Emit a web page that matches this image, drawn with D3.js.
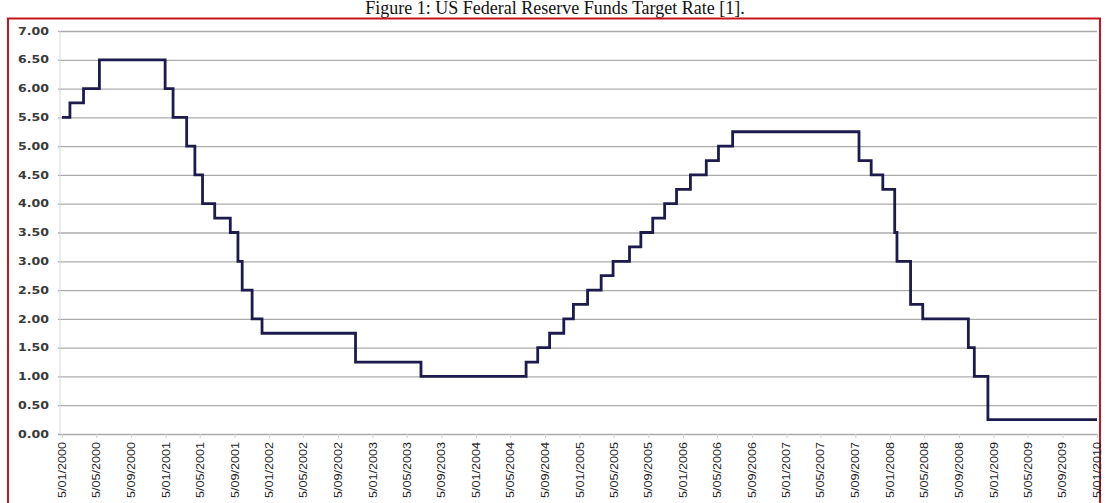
<!DOCTYPE html>
<html>
<head>
<meta charset="utf-8">
<script src="https://cdn.jsdelivr.net/npm/d3@7"></script>
<style>
  html, body { margin: 0; padding: 0; background: #fff; }
  svg { display: block; }
</style>
</head>
<body>
<svg id="chart" width="1105" height="503"></svg>
<script>
// ---- Data: Fed funds target rate changes (date of change, new rate %) ----
const changeDates = [
  "2000-01-05","2000-02-02","2000-03-21","2000-05-16",
  "2001-01-03","2001-01-31","2001-03-20","2001-04-18","2001-05-15","2001-06-27",
  "2001-08-21","2001-09-17","2001-10-02","2001-11-06","2001-12-11",
  "2002-11-06","2003-06-25",
  "2004-06-30","2004-08-10","2004-09-21","2004-11-10","2004-12-14",
  "2005-02-02","2005-03-22","2005-05-03","2005-06-30","2005-08-09","2005-09-20","2005-11-01","2005-12-13",
  "2006-01-31","2006-03-28","2006-05-10","2006-06-29",
  "2007-09-18","2007-10-31","2007-12-11",
  "2008-01-22","2008-01-30","2008-03-18","2008-04-30","2008-10-08","2008-10-29","2008-12-16",
  "2010-01-05"
];
const rates = [
  5.50,5.75,6.00,6.50,
  6.00,5.50,5.00,4.50,4.00,3.75,
  3.50,3.00,2.50,2.00,1.75,
  1.25,1.00,
  1.25,1.50,1.75,2.00,2.25,
  2.50,2.75,3.00,3.25,3.50,3.75,4.00,4.25,
  4.50,4.75,5.00,5.25,
  4.75,4.50,4.25,
  3.50,3.00,2.25,2.00,1.50,1.00,0.25,
  0.25
];
const yTicks = [0,0.5,1,1.5,2,2.5,3,3.5,4,4.5,5,5.5,6,6.5,7];
const xTickDates = [
  "2000-01-05","2000-05-05","2000-09-05","2001-01-05","2001-05-05","2001-09-05",
  "2002-01-05","2002-05-05","2002-09-05","2003-01-05","2003-05-05","2003-09-05",
  "2004-01-05","2004-05-05","2004-09-05","2005-01-05","2005-05-05","2005-09-05",
  "2006-01-05","2006-05-05","2006-09-05","2007-01-05","2007-05-05","2007-09-05",
  "2008-01-05","2008-05-05","2008-09-05","2009-01-05","2009-05-05","2009-09-05",
  "2010-01-05"
];
const xTickLabels = [
  "5/01/2000","5/05/2000","5/09/2000","5/01/2001","5/05/2001","5/09/2001",
  "5/01/2002","5/05/2002","5/09/2002","5/01/2003","5/05/2003","5/09/2003",
  "5/01/2004","5/05/2004","5/09/2004","5/01/2005","5/05/2005","5/09/2005",
  "5/01/2006","5/05/2006","5/09/2006","5/01/2007","5/05/2007","5/09/2007",
  "5/01/2008","5/05/2008","5/09/2008","5/01/2009","5/05/2009","5/09/2009",
  "5/01/2010"
];
const titleText = "Figure 1: US Federal Reserve Funds Target Rate [1].";

// ---- Drawing ----
(function () {
const parse = d3.timeParse("%Y-%m-%d");
const series = changeDates.map((d, i) => ({ date: parse(d), rate: rates[i] }));
const tickDates = xTickDates.map(parse);

const svg = d3.select("#chart");
const pLeft = 62, pRight = 1097, pTop = 31, pBottom = 434;

const x = d3.scaleTime()
  .domain([parse("2000-01-05"), parse("2010-01-05")])
  .range([pLeft, pRight]);
const y = d3.scaleLinear().domain([0, 7]).range([pBottom, pTop]);

// title
svg.append("text")
  .attr("x", 555).attr("y", 14)
  .attr("text-anchor", "middle")
  .attr("font-family", "Liberation Serif, Times New Roman, serif")
  .attr("font-size", 18)
  .attr("fill", "#111")
  .text(titleText);

// red frame
svg.append("rect")
  .attr("x", 8).attr("y", 18.5)
  .attr("width", 1092).attr("height", 500)
  .attr("fill", "none")
  .attr("stroke", "#c8141e")
  .attr("stroke-width", 2);

// y gridlines + labels
const yAxis = d3.axisLeft(y)
  .tickValues(yTicks)
  .tickSize(-(pRight - pLeft + 4))
  .tickPadding(8)
  .tickFormat(d3.format(".2f"));
const gy = svg.append("g")
  .attr("transform", `translate(${pLeft - 4},0)`)
  .call(yAxis);
gy.select(".domain").remove();
gy.selectAll(".tick line")
  .attr("stroke", "#ababab")
  .attr("stroke-width", 1.3);
gy.selectAll(".tick text")
  .attr("font-family", "DejaVu Sans, Verdana, sans-serif")
  .attr("font-size", 10)
  .attr("font-weight", "bold")
  .attr("fill", "#3a3a3a")
  .attr("textLength", 31)
  .attr("lengthAdjust", "spacingAndGlyphs")
  .attr("x", -9);

// y axis vertical line
svg.append("line")
  .attr("x1", pLeft - 2).attr("x2", pLeft - 2)
  .attr("y1", y(7)).attr("y2", y(0))
  .attr("stroke", "#d8d8d8").attr("stroke-width", 1);

// x axis
const xAxis = d3.axisBottom(x)
  .tickValues(tickDates)
  .tickSize(4)
  .tickFormat((d, i) => xTickLabels[i]);
const gx = svg.append("g")
  .attr("transform", `translate(0,${pBottom})`)
  .call(xAxis);
gx.select(".domain").remove();
gx.selectAll(".tick line").attr("stroke", "#d0d0d0").attr("stroke-width", 1);
gx.selectAll(".tick text")
  .attr("font-family", "Liberation Sans, Arial, sans-serif")
  .attr("font-size", 10)
  .attr("fill", "#222")
  .attr("text-anchor", "end")
  .attr("dy", "0.35em")
  .attr("x", 0).attr("y", 0)
  .attr("transform", "translate(0,8) rotate(-90)")
  .attr("textLength", 56)
  .attr("lengthAdjust", "spacingAndGlyphs");

// step line
const line = d3.line()
  .x(d => x(d.date))
  .y(d => y(d.rate))
  .curve(d3.curveStepAfter);
svg.append("path")
  .datum(series)
  .attr("d", line)
  .attr("fill", "none")
  .attr("stroke", "#1d1b4d")
  .attr("stroke-width", 2.8)
  .attr("stroke-linejoin", "miter");
})();
</script>
</body>
</html>
